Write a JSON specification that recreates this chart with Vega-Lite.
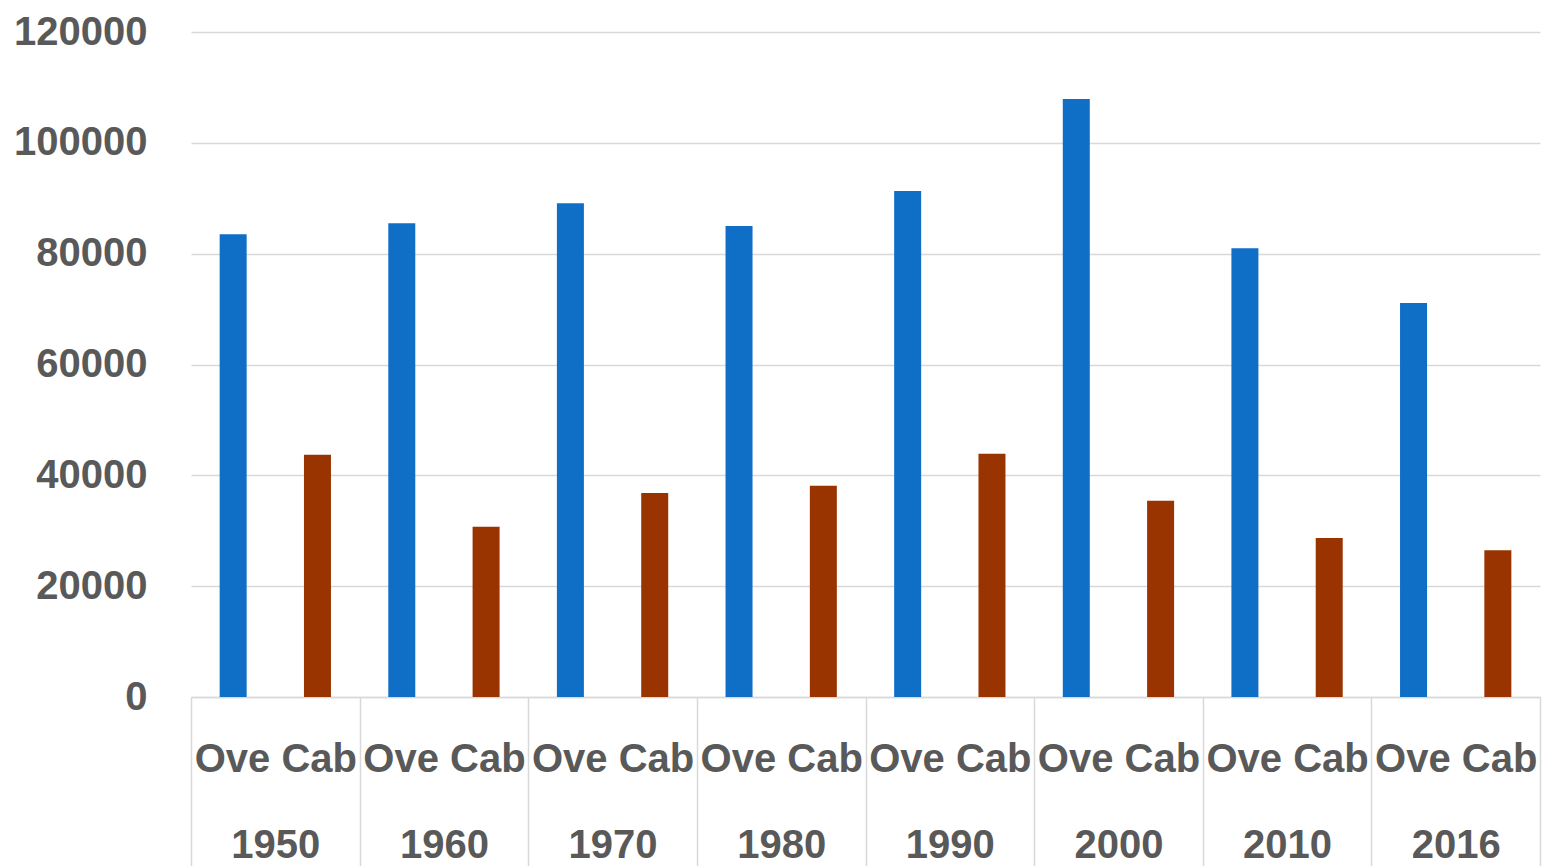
{
  "$schema": "https://vega.github.io/schema/vega-lite/v6.json",
  "autosize": {"type": "none"},
  "padding": {"left": 191, "top": 32, "right": 4, "bottom": 169},
  "width": 1349,
  "height": 665,
  "background": "white",
  "config": {
    "view": {"stroke": null},
    "font": "Liberation Sans"
  },
  "data": {
    "values": [
      {"year": "1950", "type": "Ove", "value": 83500},
      {"year": "1950", "type": "Cab", "value": 43700},
      {"year": "1960", "type": "Ove", "value": 85500},
      {"year": "1960", "type": "Cab", "value": 30700},
      {"year": "1970", "type": "Ove", "value": 89100},
      {"year": "1970", "type": "Cab", "value": 36800},
      {"year": "1980", "type": "Ove", "value": 85000},
      {"year": "1980", "type": "Cab", "value": 38100},
      {"year": "1990", "type": "Ove", "value": 91300},
      {"year": "1990", "type": "Cab", "value": 43900},
      {"year": "2000", "type": "Ove", "value": 107900},
      {"year": "2000", "type": "Cab", "value": 35400},
      {"year": "2010", "type": "Ove", "value": 81000},
      {"year": "2010", "type": "Cab", "value": 28700},
      {"year": "2016", "type": "Ove", "value": 71100},
      {"year": "2016", "type": "Cab", "value": 26500}
    ]
  },
  "mark": {"type": "bar", "width": 27},
  "encoding": {
    "x": {
      "field": "year",
      "type": "nominal",
      "sort": null,
      "scale": {"paddingInner": 0, "paddingOuter": 0},
      "axis": {
        "title": null,
        "labelAngle": 0,
        "labelExpr": "datum.label ? ['Ove Cab', datum.label] : ''",
        "labelFont": "Liberation Sans",
        "labelFontWeight": "bold",
        "labelFontSize": 40,
        "labelColor": "#595959",
        "labelBaseline": "alphabetic",
        "labelLineHeight": 86,
        "labelPadding": -101,
        "labelOverlap": false,
        "labelBound": false,
        "ticks": true,
        "tickBand": "extent",
        "tickSize": 175,
        "tickColor": "#d9d9d9",
        "tickWidth": 1.5,
        "domainColor": "#d9d9d9",
        "domainWidth": 1.5
      }
    },
    "xOffset": {
      "field": "type",
      "type": "nominal",
      "sort": ["Ove", "Cab"],
      "scale": {"paddingInner": 0, "paddingOuter": 0}
    },
    "y": {
      "field": "value",
      "type": "quantitative",
      "scale": {"domain": [0, 120000]},
      "axis": {
        "title": null,
        "values": [0, 20000, 40000, 60000, 80000, 100000, 120000],
        "format": "d",
        "domain": false,
        "ticks": false,
        "labelPadding": 44,
        "labelFont": "Liberation Sans",
        "labelFontWeight": "bold",
        "labelFontSize": 40,
        "labelColor": "#595959",
        "labelBaseline": "middle",
        "gridColor": "#d9d9d9",
        "gridWidth": 1.5
      }
    },
    "color": {
      "field": "type",
      "type": "nominal",
      "scale": {"domain": ["Ove", "Cab"], "range": ["#0F6FC6", "#993300"]},
      "legend": null
    }
  }
}
